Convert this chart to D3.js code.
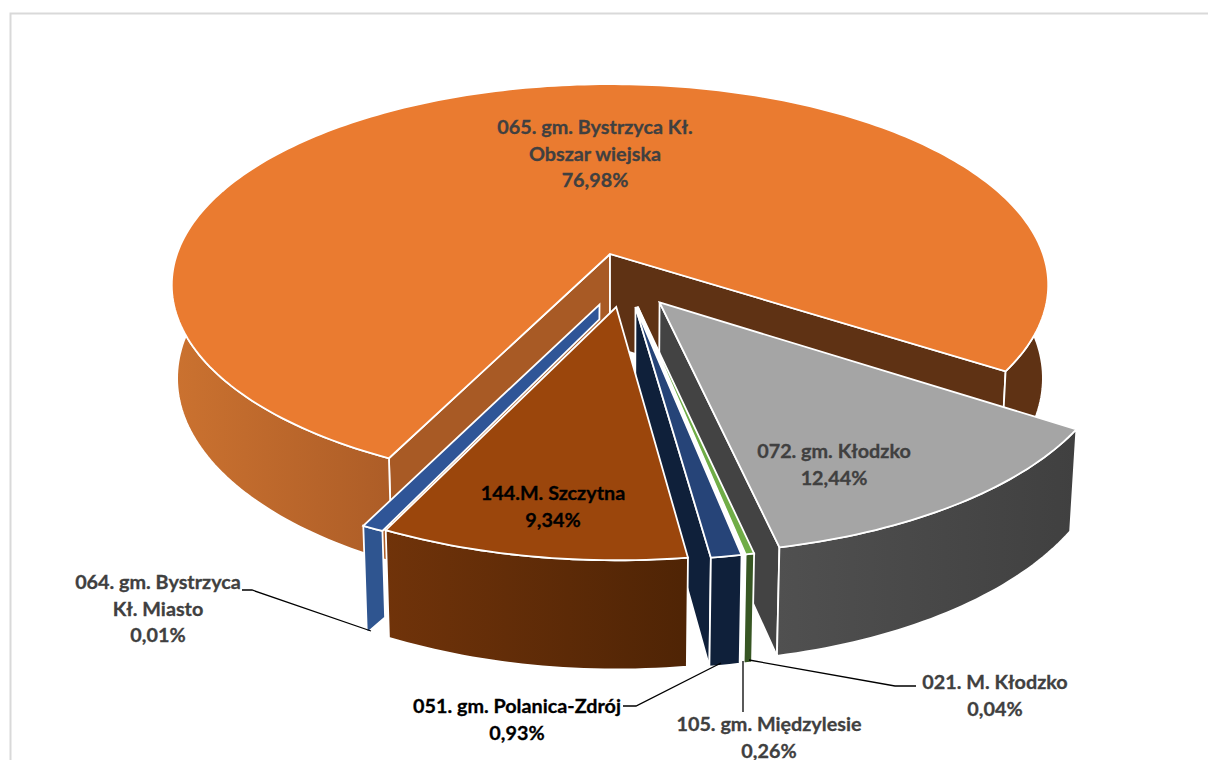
<!DOCTYPE html>
<html>
<head>
<meta charset="utf-8">
<script src="https://cdn.jsdelivr.net/npm/d3@7"></script>
<style>
  html,body{margin:0;padding:0;background:#fff;overflow:hidden;}
  text{font-family:Lato,"Open Sans",sans-serif;font-weight:700;font-size:19.8px;stroke-width:.3px;}
</style>
</head>
<body>
<svg id="chart" width="1208" height="760"></svg>
<script>
// slices in drawing order, clockwise from the big orange one
const categories = ["065. gm. Bystrzyca Kł.|Obszar wiejska","072. gm. Kłodzko","105. gm. Międzylesie","021. M. Kłodzko","051. gm. Polanica-Zdrój","144.M. Szczytna","064. gm. Bystrzyca|Kł. Miasto"];
const values = [76.98,12.44,0.26,0.04,0.93,9.34,0.01];

const topColors = ["#ea7b30","#a5a5a5","#70ad47","#ffffff","#264478","#9b460c","#2f5597"];
const wallColors = ["#5f3214","#434343","#375623","#ffffff","#0f203a","#5f2b08","#2f5590"];
const leftWallOrange = "#a85a25";
const rimStops = [
  [[0,"#cb7230"],[0.25,"#ad5d27"],[0.93,"#5f3214"],[1,"#5f3214"]],
  [[0,"#505050"],[1,"#404040"]],
  [[0,"#375623"],[1,"#375623"]],
  [[0,"#ffffff"],[1,"#ffffff"]],
  [[0,"#0f203a"],[1,"#0f203a"]],
  [[0,"#70330a"],[1,"#4f2405"]],
  [[0,"#2f5590"],[1,"#2f5590"]]
];
const labelColors = ["#404040","#404040","#404040","#404040","#000","#000","#404040"];
// label centre x, first line y
const labelPos = [[595,134],[834,458],[769,731],[995,689],[517,713],[553,500],[158,589]];
const leaders = [
  null,null,
  [[743,661],[743,712]],
  [[749,660],[895,686],[916,686]],
  [[721,663],[636,706],[623,706]],
  null,
  [[371,631],[252,590],[242,590]]
];

// perspective, fitted on the rim of the orange slice
const persp = 0.154, perspBottom = 0.012, depth = 93, explode = 0.133;
const sliverMin = 0.1*Math.PI/180, sliverArc = 2.4*Math.PI/180, sliverShift = 0.4*Math.PI/180, sliverApex = 0.07, sliverCut = 0.8;

const svg = d3.select("#chart");
const defs = svg.append("defs");

svg.append("rect").attr("x",10.5).attr("y",13.5).attr("width",1300).attr("height",900)
  .attr("fill","#fff").attr("stroke","#d9d9d9").attr("stroke-width",2);

const sx = d3.scaleLinear().domain([-1,1]).range([177,1043]);
const sy = d3.scaleLinear().domain([-1,1]).range([58,450]);

function project(u,v,h){
  const w = 1-persp*v+perspBottom*h;
  return [sx(u/w), sy(v/w)+depth*h/w];
}
const dir = a=>[Math.sin(a),-Math.cos(a)];
const line = d3.line();

const pie = d3.pie().sort(null).startAngle(206.1*Math.PI/180).endAngle((206.1+360)*Math.PI/180);
const arcs = pie(values);

const mid0 = (arcs[0].startAngle+arcs[0].endAngle)/2;
const origin = dir(mid0).map(d=>-explode*d); // orange apex sits on world 0,0

const slices = arcs.map((a,i)=>{
  const mid = (a.startAngle+a.endAngle)/2;
  const m = dir(mid);
  const apex = [origin[0]+explode*m[0], origin[1]+explode*m[1]];
  let a0 = a.startAngle, a1 = a.endAngle, apex2 = apex, cut = 1;
  if(a1-a0 < sliverMin && values[i] < 0.02){
    // so thin that it only shows as a band
    a1 = a1+sliverShift;
    a0 = a1-sliverArc;
    apex2 = [apex[0],apex[1]+sliverApex];
    cut = sliverCut;
  }
  return {i,a0,a1,apex,apex2,cut};
});

function rimPoints(s,h){
  const n = Math.max(2,Math.ceil((s.a1-s.a0)/0.02));
  return d3.range(n+1).map(k=>{
    const t = s.a0+(s.a1-s.a0)*k/n, d = dir(t);
    const hh = h*(s.cut+(1-s.cut)*k/n);
    return project(s.apex[0]+d[0],s.apex[1]+d[1],hh);
  });
}

function wallVisible(s,angle,side){
  const d = dir(angle), d2 = dir(angle+side*0.1);
  const A = project(s.apex[0],s.apex[1],0);
  const P = project(s.apex[0]+d[0],s.apex[1]+d[1],0);
  const I = project(s.apex[0]+d2[0]*0.5,s.apex[1]+d2[1]*0.5,0);
  const e = [P[0]-A[0],P[1]-A[1]];
  return e[0]*(I[1]-A[1])-e[1]*(I[0]-A[0]) < 0 === e[0] > 0;
}

const g = svg.append("g").attr("stroke","#fff").attr("stroke-width",1.8);

const sliceG = g.selectAll("g.slice").data(slices).enter().append("g").attr("class","slice");

sliceG.each(function(s){
  const el = d3.select(this);
  const top = rimPoints(s,0), bot = rimPoints(s,1);

  // radial walls
  [[s.a0,1],[s.a1,-1]].forEach(([ang,side])=>{
    if(s.cut<1 || !wallVisible(s,ang,side)) return;
    const d = dir(ang), P = [s.apex[0]+d[0],s.apex[1]+d[1]];
    const pts = [project(...s.apex,0),project(...P,0),project(...P,1),project(...s.apex,1)];
    el.append("path").attr("d",line(pts)+"Z").attr("fill",ang===s.a0 && s.i===0 ? leftWallOrange : wallColors[s.i]);
  });

  // outer rim
  const x0 = d3.min(bot.concat(top),p=>p[0]), x1 = d3.max(bot.concat(top),p=>p[0]);
  const id = "rim"+s.i;
  const lg = defs.append("linearGradient").attr("id",id).attr("gradientUnits","userSpaceOnUse")
    .attr("x1",x0).attr("x2",x1).attr("y1",0).attr("y2",0);
  rimStops[s.i].forEach(st=>lg.append("stop").attr("offset",st[0]).attr("stop-color",st[1]));
  el.append("path").attr("d",line(top.concat(bot.slice().reverse()))+"Z").attr("fill",`url(#${id})`);

  // top face, the band has a second inner corner
  let face = [project(...s.apex2,0)].concat(top);
  if(s.apex2!==s.apex) face.push(project(...s.apex,0));
  el.append("path").attr("d",line(face)+"Z").attr("fill",topColors[s.i]);
});

// leader lines
svg.append("g").selectAll("path").data(leaders.filter(d=>d)).enter().append("path")
  .attr("d",d=>line(d)).attr("fill","none").attr("stroke","#000").attr("stroke-width",1.3);

// labels
const fmt = v=>d3.format(".2f")(v).replace(".",",")+"%";
const labels = svg.append("g").attr("text-anchor","middle").selectAll("text").data(categories).enter().append("text")
  .attr("x",(d,i)=>labelPos[i][0]).attr("y",(d,i)=>labelPos[i][1])
  .attr("fill",(d,i)=>labelColors[i]).attr("stroke",(d,i)=>labelColors[i]);
labels.each(function(d,i){
  const lines = d.split("|").concat(fmt(values[i]));
  d3.select(this).selectAll("tspan").data(lines).enter().append("tspan")
    .attr("x",labelPos[i][0]).attr("dy",(l,k)=>k?26.5:0).text(l=>l);
});
</script>
</body>
</html>
